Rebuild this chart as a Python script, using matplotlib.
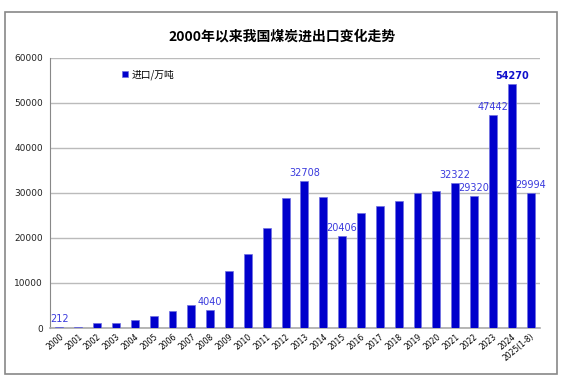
import matplotlib.pyplot as plt
from matplotlib.patches import Rectangle

plt.rcParams['font.family'] = ['Noto Sans CJK SC', 'DejaVu Sans']

years = ['2000', '2001', '2002', '2003', '2004', '2005', '2006', '2007', '2008',
         '2009', '2010', '2011', '2012', '2013', '2014', '2015', '2016', '2017',
         '2018', '2019', '2020', '2021', '2022', '2023', '2024', '2025(1-8)']
imports = [212, 266, 1081, 1110, 1861, 2617, 3811, 5102, 4040,
           12583, 16478, 22220, 28841, 32708, 29120, 20406, 25543, 27090,
           28123, 29967, 30399, 32322, 29320, 47442, 54270, 29994]
# which bars get a value label
labelled = ['2000', '2008', '2013', '2015', '2021', '2022', '2023', '2024', '2025(1-8)']

bar_color = '#0000CC'
label_color = '#3A3ADD'

fig = plt.figure(figsize=(5.64, 3.82), dpi=100)
# outer frame
fig.patches.append(Rectangle((5 / 564, 8 / 382), 552 / 564, 362 / 382,
                             transform=fig.transFigure, fill=False,
                             edgecolor='#888888', linewidth=1.2))

ax = fig.add_axes([50 / 564, 54 / 382, 490 / 564, 270 / 382])
x = range(len(years))
ax.bar(x, imports, width=0.42, color=bar_color, edgecolor='#7070E0',
       linewidth=0.5, label='进口/万吨', zorder=3)

for i, (yr, v) in enumerate(zip(years, imports)):
    if yr in labelled:
        bold = yr == '2024'
        ax.text(i, v + 600, str(v), ha='center', va='bottom',
                fontsize=7, color='#1010CC' if bold else label_color,
                fontweight='bold' if bold else 'normal', family='DejaVu Sans')

ax.set_xlim(-0.5, len(years) - 0.5)
ax.set_ylim(0, 60000)
ax.set_yticks(range(0, 60001, 10000))
ax.yaxis.grid(True, color='#BBBBBB', linewidth=1, zorder=0)
ax.tick_params(axis='y', length=0, labelsize=6.5, pad=5, colors='#222222')
ax.set_xticks(list(x))
ax.set_xticklabels(years, rotation=40, ha='right', rotation_mode='anchor',
                   fontsize=5.5, family='DejaVu Sans')
ax.tick_params(axis='x', length=0, pad=3)
for lbl in ax.get_yticklabels():
    lbl.set_family('DejaVu Sans')

for s in ['top', 'right']:
    ax.spines[s].set_visible(False)
ax.spines['left'].set_color('#888888')
ax.spines['bottom'].set_color('#AAAAAA')
ax.spines['bottom'].set_linewidth(1.2)

ax.legend(loc='upper left', bbox_to_anchor=(0.13, 0.99), frameon=False,
          fontsize=7, handlelength=0.6, handleheight=0.6, handletextpad=0.3)

fig.text(0.5, 1 - 37 / 382, '2000年以来我国煤炭进出口变化走势', ha='center',
         va='center', fontsize=10, fontweight='bold')

fig.savefig('out.png', dpi=100)
